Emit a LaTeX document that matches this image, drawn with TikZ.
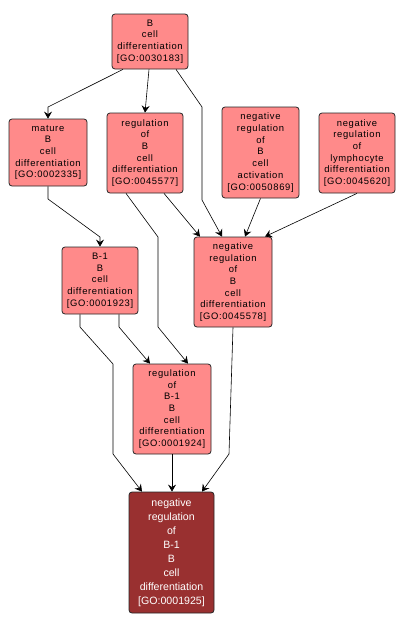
\documentclass[tikz,border=0pt]{standalone}
\usepackage{fontspec}
\setmainfont{Liberation Sans}
\usepackage{tikz}
\usetikzlibrary{arrows.meta,backgrounds,calc,positioning}
\definecolor{goLight}{RGB}{255,138,138}
\definecolor{goDark}{RGB}{153,48,48}

\begin{document}
\begin{tikzpicture}[x=1pt,y=-1pt,
  term/.style={draw=black!85,line width=0.8pt,rounded corners=3pt,fill=goLight,align=center,inner sep=0pt,
    font=\fontsize{9.4}{11.7}\selectfont\addfontfeature{LetterSpace=7}},
  target/.style={term,fill=goDark,text=white,font=\fontsize{10.6}{14}\selectfont},
  edge/.style={line width=0.6pt,-{Stealth[length=7pt,width=8pt,inset=2.5pt]}}]
\useasboundingbox (0,0) rectangle (406,629);
\node[term,minimum width=76,minimum height=55] (go30183) at (150,41.5) {B\\cell\\differentiation\\{[GO:0030183]}};
\node[term,minimum width=78,minimum height=67] (go2335) at (48,152.5) {mature\\B\\cell\\differentiation\\{[GO:0002335]}};
\node[term,minimum width=76,minimum height=80] (go45577) at (145,153) {regulation\\of\\B\\cell\\differentiation\\{[GO:0045577]}};
\node[term,minimum width=77,minimum height=91] (go50869) at (260.5,152.5) {negative\\regulation\\of\\B\\cell\\activation\\{[GO:0050869]}};
\node[term,minimum width=76,minimum height=80] (go45620) at (357,153) {negative\\regulation\\of\\lymphocyte\\differentiation\\{[GO:0045620]}};
\node[term,minimum width=76,minimum height=67] (go1923) at (100,280.5) {B-1\\B\\cell\\differentiation\\{[GO:0001923]}};
\node[term,minimum width=78,minimum height=90] (go45578) at (233,282) {negative\\regulation\\of\\B\\cell\\differentiation\\{[GO:0045578]}};
\node[term,minimum width=78,minimum height=90] (go1924) at (172,409) {regulation\\of\\B-1\\B\\cell\\differentiation\\{[GO:0001924]}};
\node[target,minimum width=85,minimum height=121] (go1925) at (171.5,552.5) {negative\\regulation\\of\\B-1\\B\\cell\\differentiation\\{[GO:0001925]}};
% connectors
\draw[edge] ([xshift=-27]go30183.south) -- (48,107) -- (go2335.north);
\draw[edge] ([xshift=-1]go30183.south) -- (go45577.north);
\draw[edge] ([xshift=26]go30183.south) -- (202,107) -- (202,200) -- ([xshift=-11]go45578.north);
\draw[edge] (go2335.south) -- (48,199) -- (100,237) -- (go1923.north);
\draw[edge] ([xshift=19]go45577.south) -- ([xshift=-33]go45578.north);
\draw[edge] ([xshift=-19]go45577.south) -- (158,237) -- (158,327) -- ([xshift=16]go1924.north);
\draw[edge] (go50869.south) -- ([xshift=12]go45578.north);
\draw[edge] (go45620.south) -- ([xshift=32]go45578.north);
\draw[edge] ([xshift=-20]go1923.south) -- (80,327) -- (113,364) -- (113,454) -- ([xshift=-29.5]go1925.north);
\draw[edge] ([xshift=19]go1923.south) -- (119,327) -- ([xshift=-22]go1924.north);
\draw[edge] (go1924.south) -- (go1924.south |- go1925.north);
\draw[edge] (go45578.south) -- (229,454) -- ([xshift=30.5]go1925.north);
\end{tikzpicture}
\end{document}
